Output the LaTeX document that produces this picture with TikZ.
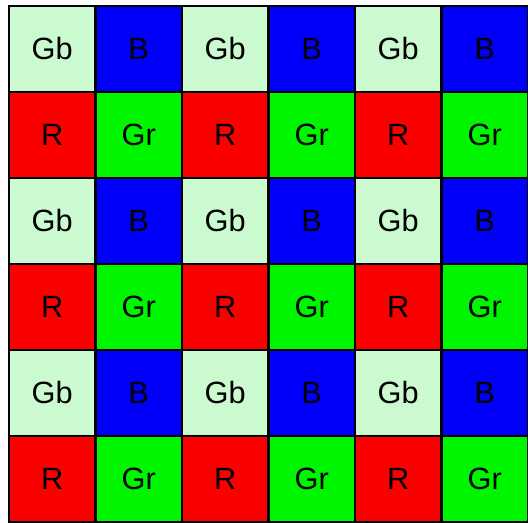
\documentclass[tikz,border=0pt]{standalone}
\usepackage{fontspec}
\setmainfont{Liberation Sans}
\definecolor{cGb}{RGB}{204,250,208}
\definecolor{cB}{RGB}{0,0,250}
\definecolor{cR}{RGB}{250,0,0}
\definecolor{cGr}{RGB}{0,245,0}
\tikzset{
    px/.style={x=0.02cm, y=-0.02cm},
    cell/.style={rectangle, draw=black, line width=1.2pt,
        minimum width=1.73cm, minimum height=1.72cm, inner sep=0pt,
        font=\fontsize{17.5}{20}\selectfont},
    gbcell/.style={cell, fill=cGb},
    bcell/.style={cell, fill=cB},
    rcell/.style={cell, fill=cR},
    grcell/.style={cell, fill=cGr},
}
\begin{document}
\begin{tikzpicture}[px]
\useasboundingbox (0,0) rectangle (528,522);
\fill[white] (0,0) rectangle (528,522);

% ================================================================
%  Bayer pattern, 6 x 6 cells
% ================================================================
\foreach \r in {0,2,4}{
    \pgfmathtruncatemacro{\rn}{\r+1}
    \foreach \c in {0,2,4}{
        \pgfmathtruncatemacro{\cn}{\c+1}
        % even row: Gb B
        \node[gbcell] (c-\r-\c)   at ({52.25+86.5*\c},{49+86*\r}) {Gb};
        \node[bcell]  (c-\r-\cn)  at ({52.25+86.5*\cn},{49+86*\r}) {B};
        % odd row: R Gr
        \node[rcell]  (c-\rn-\c)  at ({52.25+86.5*\c},{49+86*\rn}) {R};
        \node[grcell] (c-\rn-\cn) at ({52.25+86.5*\cn},{49+86*\rn}) {Gr};
    }
}

\end{tikzpicture}
\end{document}
